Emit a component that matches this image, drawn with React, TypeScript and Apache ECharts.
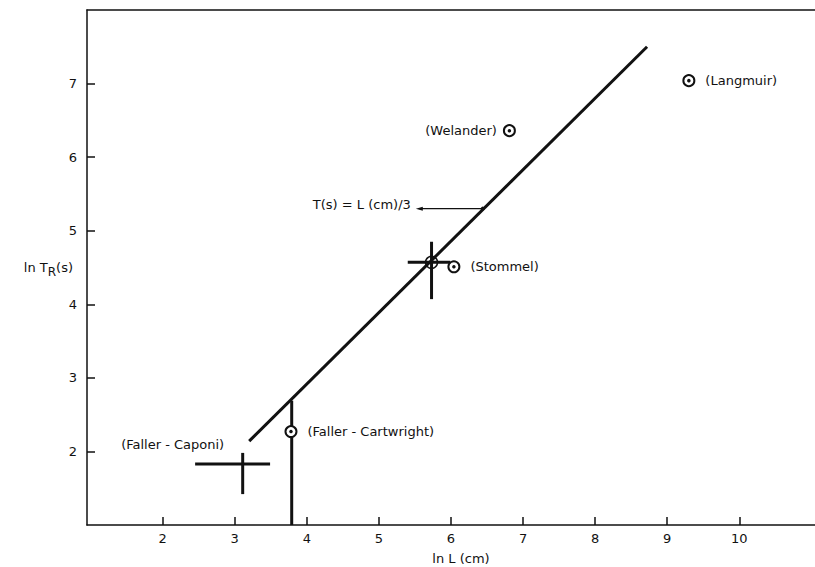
import React, { useEffect, useRef } from "react";
import * as echarts from "echarts";

// Axis ticks
const xTicks = [2, 3, 4, 5, 6, 7, 8, 9, 10];
const yTicks = [2, 3, 4, 5, 6, 7];

// Fitted line T(s) = L(cm)/3
const fitX = [3.2, 8.72];
const fitY = [2.14, 7.5];

// Vertical bar at Faller-Cartwright
const vLineX = [3.79, 3.79];
const vLineY = [1.0, 2.69];

// Circled observation points
const circleNames = ["(Faller - Cartwright)", "(Stommel)", "(Welander)", "(Langmuir)"];
const circleX = [3.78, 6.04, 6.81, 9.3];
const circleY = [2.27, 4.51, 6.36, 7.04];
const circleLabelSide = ["right", "right", "left", "right"];

// Range crosses
const crossNames = ["(Faller - Caponi)", ""];
const crossX = [3.11, 5.73];
const crossY = [1.83, 4.57];
const crossXLo = [2.45, 5.4];
const crossXHi = [3.49, 5.99];
const crossYLo = [1.42, 4.07];
const crossYHi = [1.98, 4.85];
const crossMarked = [0, 1];

// Annotation arrow
const annotText = "T(s) = L (cm)/3";
const annotX = [5.56, 6.44];
const annotY = [5.3, 5.3];

const INK = "#111";
const FONT = "DejaVu Sans";
const FS = 13;

export default function App() {
  const ref = useRef<HTMLDivElement>(null);

  useEffect(() => {
    if (!ref.current) return;
    const chart = echarts.init(ref.current, undefined, { renderer: "svg" });

    const crossData = crossX.map((x, i) => [
      x,
      crossY[i],
      crossXLo[i],
      crossXHi[i],
      crossYLo[i],
      crossYHi[i],
      crossMarked[i],
    ]);

    const option: any = {
      animation: false,
      backgroundColor: "#fff",
      textStyle: { fontFamily: FONT, color: INK },
      grid: { left: 87, right: 0, top: 10, bottom: 42, outerBoundsMode: "none", containLabel: false },
      xAxis: [
        {
          type: "value",
          min: 0.95,
          max: 11.05,
          splitLine: { show: false },
          axisLine: { lineStyle: { color: INK, width: 1.5 } },
          axisTick: {
            inside: true,
            length: 8,
            customValues: xTicks,
            lineStyle: { color: INK, width: 1.5 },
          },
          axisLabel: {
            customValues: xTicks,
            margin: 7,
            fontSize: FS,
            color: INK,
            fontFamily: FONT,
          },
          name: "ln L (cm)",
          nameLocation: "middle",
          nameGap: 27,
          nameMoveOverlap: false,
          nameTextStyle: {
            fontSize: FS,
            color: INK,
            fontFamily: FONT,
            padding: [0, 0, 0, 20],
          },
        },
        {
          type: "value",
          position: "top",
          min: 0.95,
          max: 11.05,
          splitLine: { show: false },
          axisLine: { show: true, lineStyle: { color: INK, width: 1.5 } },
          axisTick: { show: false },
          axisLabel: { show: false },
        },
      ],
      yAxis: {
        type: "value",
        min: 1,
        max: 8,
        splitLine: { show: false },
        axisLine: { lineStyle: { color: INK, width: 1.5 } },
        axisTick: {
          inside: true,
          length: 8,
          customValues: yTicks,
          lineStyle: { color: INK, width: 1.5 },
        },
        axisLabel: {
          customValues: yTicks,
          margin: 10,
          fontSize: FS,
          color: INK,
          fontFamily: FONT,
        },
        name: "ln T{sub|R}(s)",
        nameLocation: "middle",
        nameRotate: 0,
        nameGap: 14,
        nameMoveOverlap: false,
        nameTextStyle: {
          fontSize: FS,
          color: INK,
          fontFamily: FONT,
          rich: {
            sub: { fontSize: 12, fontFamily: FONT, color: INK, padding: [9, 0, 0, 0] },
          },
        },
      },
      series: [
        {
          type: "line",
          data: fitX.map((x, i) => [x, fitY[i]]),
          symbol: "none",
          lineStyle: { color: INK, width: 3 },
          z: 3,
        },
        {
          type: "line",
          data: vLineX.map((x, i) => [x, vLineY[i]]),
          symbol: "none",
          lineStyle: { color: INK, width: 3 },
          z: 3,
        },
        {
          type: "line",
          data: annotX.map((x, i) => {
            if (i === 0) {
              return {
                value: [x, annotY[i]],
                symbol: "triangle",
                symbolSize: [4, 7],
                symbolRotate: 90,
                label: {
                  show: true,
                  position: "left",
                  distance: 5,
                  offset: [0, -4],
                  formatter: annotText,
                  fontSize: FS,
                  color: INK,
                  fontFamily: FONT,
                },
              };
            }
            return { value: [x, annotY[i]], symbol: "circle", symbolSize: 4 };
          }),
          showSymbol: true,
          itemStyle: { color: INK },
          lineStyle: { color: INK, width: 1.2 },
          z: 4,
        },
        {
          type: "custom",
          data: crossData,
          encode: { x: [0, 2, 3], y: [1, 4, 5] },
          renderItem: (params: any, api: any) => {
            const cx = api.value(0);
            const cy = api.value(1);
            const pL = api.coord([api.value(2), cy]);
            const pR = api.coord([api.value(3), cy]);
            const pB = api.coord([cx, api.value(4)]);
            const pT = api.coord([cx, api.value(5)]);
            const c = api.coord([cx, cy]);
            const children: any[] = [
              {
                type: "line",
                shape: { x1: pL[0], y1: pL[1], x2: pR[0], y2: pR[1] },
                style: { stroke: INK, lineWidth: 3 },
              },
              {
                type: "line",
                shape: { x1: pB[0], y1: pB[1], x2: pT[0], y2: pT[1] },
                style: { stroke: INK, lineWidth: 3 },
              },
            ];
            if (api.value(6)) {
              children.push({
                type: "circle",
                shape: { cx: c[0], cy: c[1], r: 6 },
                style: { stroke: INK, fill: "none", lineWidth: 1.5 },
              });
            }
            const name = crossNames[params.dataIndex];
            if (name) {
              children.push({
                type: "text",
                x: c[0] - 70,
                y: c[1] - 19,
                style: {
                  text: name,
                  fontSize: FS,
                  fontFamily: FONT,
                  fill: INK,
                  align: "center",
                  verticalAlign: "middle",
                },
              });
            }
            return { type: "group", children };
          },
          z: 5,
        },
        {
          type: "scatter",
          data: circleX.map((x, i) => ({
            value: [x, circleY[i]],
            label: {
              show: true,
              position: circleLabelSide[i],
              distance: circleLabelSide[i] === "left" ? 6 : 10,
              formatter: circleNames[i],
              fontSize: FS,
              color: INK,
              fontFamily: FONT,
            },
          })),
          symbol: "emptyCircle",
          symbolSize: 11,
          itemStyle: { color: INK, borderColor: INK, borderWidth: 1.5, opacity: 1 },
          z: 6,
        },
        {
          type: "scatter",
          data: circleX.map((x, i) => [x, circleY[i]]),
          symbol: "circle",
          symbolSize: 3.5,
          itemStyle: { color: INK, opacity: 1 },
          z: 7,
        },
      ],
    };

    chart.setOption(option);
    return () => chart.dispose();
  }, []);

  return <div ref={ref} style={{ width: 815, height: 567, position: "absolute", left: 0, top: 0 }} />;
}
